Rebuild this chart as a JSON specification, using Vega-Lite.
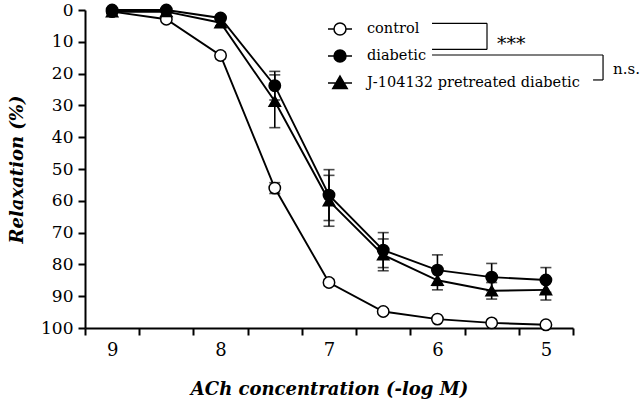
{
  "$schema": "https://vega.github.io/schema/vega-lite/v6.json",
  "width": 488,
  "height": 318,
  "autosize": "none",
  "padding": {"left": 85, "top": 10, "right": 67, "bottom": 78},
  "background": "white",
  "config": {"view": {"stroke": null}, "font": "DejaVu Serif"},
  "datasets": {
    "curves": [
      {"group": "control", "conc": 9, "mean": 0.5, "sem": 0.3},
      {"group": "control", "conc": 8.5, "mean": 2.9, "sem": 0.5},
      {"group": "control", "conc": 8, "mean": 14.3, "sem": 1.0},
      {"group": "control", "conc": 7.5, "mean": 56, "sem": 1.7},
      {"group": "control", "conc": 7, "mean": 85.7, "sem": 1.0},
      {"group": "control", "conc": 6.5, "mean": 94.8, "sem": 0.8},
      {"group": "control", "conc": 6, "mean": 97.2, "sem": 0.5},
      {"group": "control", "conc": 5.5, "mean": 98.4, "sem": 0.5},
      {"group": "control", "conc": 5, "mean": 99, "sem": 0.5},
      {"group": "J-104132 pretreated diabetic", "conc": 9, "mean": 0.6, "sem": 0.3},
      {"group": "J-104132 pretreated diabetic", "conc": 8.5, "mean": 0.5, "sem": 0.4},
      {"group": "J-104132 pretreated diabetic", "conc": 8, "mean": 4, "sem": 1.0},
      {"group": "J-104132 pretreated diabetic", "conc": 7.5, "mean": 28.7, "sem": 8.3},
      {"group": "J-104132 pretreated diabetic", "conc": 7, "mean": 60, "sem": 8.0},
      {"group": "J-104132 pretreated diabetic", "conc": 6.5, "mean": 77, "sem": 5.0},
      {"group": "J-104132 pretreated diabetic", "conc": 6, "mean": 85, "sem": 3.0},
      {"group": "J-104132 pretreated diabetic", "conc": 5.5, "mean": 88.3, "sem": 2.6},
      {"group": "J-104132 pretreated diabetic", "conc": 5, "mean": 88, "sem": 3.2},
      {"group": "diabetic", "conc": 9, "mean": 0, "sem": 0.3},
      {"group": "diabetic", "conc": 8.5, "mean": 0, "sem": 0.3},
      {"group": "diabetic", "conc": 8, "mean": 2.5, "sem": 0.8},
      {"group": "diabetic", "conc": 7.5, "mean": 23.8, "sem": 4.5},
      {"group": "diabetic", "conc": 7, "mean": 58.2, "sem": 8.0},
      {"group": "diabetic", "conc": 6.5, "mean": 75.5, "sem": 5.5},
      {"group": "diabetic", "conc": 6, "mean": 81.8, "sem": 4.8},
      {"group": "diabetic", "conc": 5.5, "mean": 84, "sem": 4.3},
      {"group": "diabetic", "conc": 5, "mean": 84.9, "sem": 3.9}
    ],
    "brackets": [
      {"conc": 6.05, "conc2": 5.543, "mean": 4.2, "mean2": 4.2},
      {"conc": 5.543, "conc2": 5.543, "mean": 4.2, "mean2": 12.4},
      {"conc": 6.05, "conc2": 5.543, "mean": 12.4, "mean2": 12.4},
      {"conc": 6.05, "conc2": 4.473, "mean": 14.15, "mean2": 14.15},
      {"conc": 4.473, "conc2": 4.473, "mean": 14.15, "mean2": 22.0},
      {"conc": 4.565, "conc2": 4.473, "mean": 22.0, "mean2": 22.0}
    ],
    "stars": [
      {"conc": 5.45, "mean": 12.6, "label": "***"}
    ],
    "notes": [
      {"conc": 4.381, "mean": 20.1, "label": "n.s."}
    ]
  },
  "encoding": {
    "x": {
      "field": "conc", "type": "quantitative",
      "scale": {"domain": [4.75, 9.25], "reverse": true, "nice": false, "zero": false},
      "axis": {
        "title": "ACh concentration (-log M)",
        "values": [9.25, 9, 8.75, 8.25, 8, 7.75, 7.25, 7, 6.75, 6.25, 6, 5.75, 5.25, 5, 4.75],
        "labelExpr": "datum.value % 1 === 0 ? format(datum.value, 'd') : ''",
        "tickOpacity": {"condition": {"test": "datum.value % 1 === 0", "value": 0}, "value": 1},
        "tickSize": 7, "tickWidth": 2, "tickColor": "black",
        "domainColor": "black", "domainWidth": 2,
        "labelFont": "DejaVu Serif", "labelFontSize": 18, "labelColor": "black",
        "labelPadding": 6, "labelOverlap": false, "labelFlush": false,
        "grid": false,
        "titleFont": "DejaVu Serif", "titleFontSize": 18, "titleFontWeight": "bold",
        "titleFontStyle": "italic", "titleColor": "black", "titlePadding": 21
      }
    },
    "y": {
      "field": "mean", "type": "quantitative",
      "scale": {"domain": [0, 100], "reverse": true, "nice": false},
      "axis": {
        "title": "Relaxation (%)",
        "values": [0, 10, 20, 30, 40, 50, 60, 70, 80, 90, 100],
        "tickSize": 7, "tickWidth": 2, "tickColor": "black",
        "domainColor": "black", "domainWidth": 2,
        "labelFont": "DejaVu Serif", "labelFontSize": 17, "labelColor": "black",
        "labelPadding": 5, "labelOverlap": false, "labelFlush": false,
        "grid": false,
        "titleFont": "DejaVu Serif", "titleFontSize": 18, "titleFontWeight": "bold",
        "titleFontStyle": "italic", "titleColor": "black", "titlePadding": 14
      }
    }
  },
  "resolve": {"scale": {"shape": "independent", "fill": "independent", "stroke": "independent"}},
  "layer": [
    {
      "data": {"name": "curves"},
      "mark": {"type": "line", "color": "black", "strokeWidth": 1.9},
      "encoding": {
        "detail": {"field": "group"}
      }
    },
    {
      "data": {"name": "curves"},
      "mark": {"type": "errorbar", "color": "black", "ticks": {"size": 11, "thickness": 1.6}, "rule": {"strokeWidth": 1.6}},
      "encoding": {
        "yError": {"field": "sem"},
        "detail": {"field": "group"}
      }
    },
    {
      "data": {"name": "curves"},
      "mark": {"type": "point", "stroke": "black", "strokeWidth": 1.5, "opacity": 1, "size": 130},
      "encoding": {
        "shape": {
          "field": "group", "type": "nominal",
          "scale": {"domain": ["control", "diabetic", "J-104132 pretreated diabetic"], "range": ["circle", "circle", "triangle-up"]},
          "legend": null
        },
        "fill": {
          "field": "group", "type": "nominal",
          "scale": {"domain": ["control", "diabetic", "J-104132 pretreated diabetic"], "range": ["white", "black", "black"]},
          "legend": null
        }
      }
    },
    {
      "data": {"name": "curves"},
      "transform": [{"filter": "false"}],
      "mark": {"type": "point", "strokeWidth": 1.5, "opacity": 1},
      "encoding": {
        "shape": {
          "field": "group", "type": "nominal",
          "scale": {
            "domain": ["control", "diabetic", "J-104132 pretreated diabetic"],
            "range": [
              "M-1,0H-0.5A0.5,0.5,0,1,1,0.5,0H1M0.5,0A0.5,0.5,0,1,1,-0.5,0",
              "M-1,0H-0.5A0.5,0.5,0,1,1,0.5,0H1M0.5,0A0.5,0.5,0,1,1,-0.5,0",
              "M-1,0H1M0,-0.58L0.6,0.45L-0.6,0.45Z"
            ]
          },
          "legend": {
            "orient": "none", "legendX": 242, "legendY": 6, "title": null, "padding": 0,
            "labelFont": "DejaVu Serif", "labelFontSize": 14.5, "labelColor": "black",
            "labelLimit": 400,
            "symbolSize": 576, "labelOffset": 14, "rowPadding": 5,
            "symbolStrokeWidth": 1.5
          }
        },
        "fill": {
          "field": "group", "type": "nominal",
          "scale": {"domain": ["control", "diabetic", "J-104132 pretreated diabetic"], "range": ["white", "black", "black"]}
        },
        "stroke": {
          "field": "group", "type": "nominal",
          "scale": {"domain": ["control", "diabetic", "J-104132 pretreated diabetic"], "range": ["black", "black", "black"]}
        }
      }
    },
    {
      "data": {"name": "brackets"},
      "mark": {"type": "rule", "color": "black", "strokeWidth": 1.2},
      "encoding": {
        "x2": {"field": "conc2"},
        "y2": {"field": "mean2"}
      }
    },
    {
      "data": {"name": "stars"},
      "mark": {"type": "text", "align": "left", "baseline": "alphabetic", "font": "DejaVu Serif", "fontSize": 19, "color": "black"},
      "encoding": {
        "text": {"field": "label"}
      }
    },
    {
      "data": {"name": "notes"},
      "mark": {"type": "text", "align": "left", "baseline": "alphabetic", "font": "DejaVu Serif", "fontSize": 15, "color": "black"},
      "encoding": {
        "text": {"field": "label"}
      }
    }
  ]
}
